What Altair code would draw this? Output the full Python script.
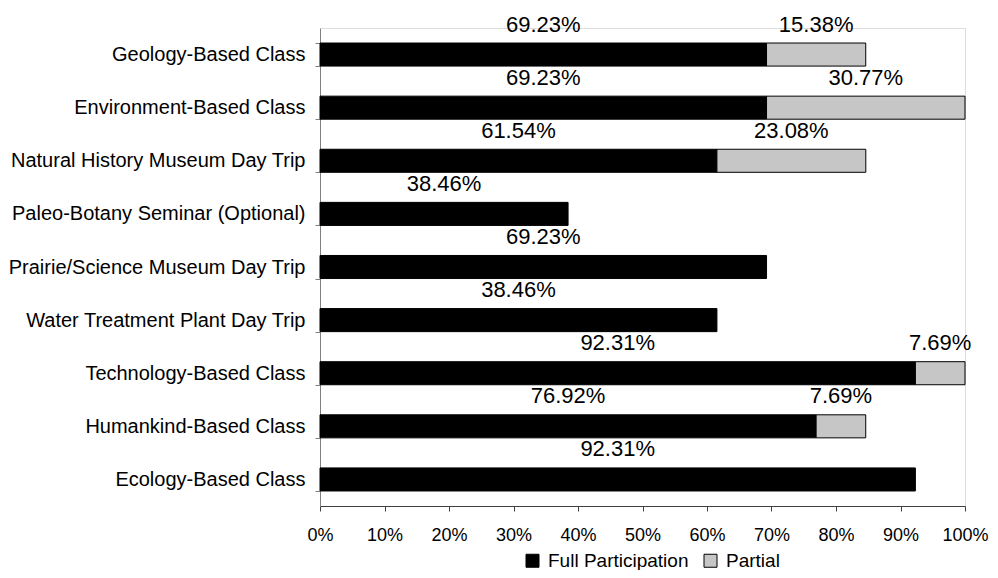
import altair as alt
import pandas as pd

categories = [
    "Geology-Based Class",
    "Environment-Based Class",
    "Natural History Museum Day Trip",
    "Paleo-Botany Seminar (Optional)",
    "Prairie/Science Museum Day Trip",
    "Water Treatment Plant Day Trip",
    "Technology-Based Class",
    "Humankind-Based Class",
    "Ecology-Based Class",
]
full_values = [69.23, 69.23, 61.54, 38.46, 69.23, 61.54, 92.31, 76.92, 92.31]
partial_values = [15.38, 30.77, 23.08, 0, 0, 0, 7.69, 7.69, 0]
full_labels = ["69.23%", "69.23%", "61.54%", "38.46%", "69.23%", "38.46%", "92.31%", "76.92%", "92.31%"]
partial_labels = ["15.38%", "30.77%", "23.08%", "", "", "", "7.69%", "7.69%", ""]
series = ["Full Participation", "Partial"]

rows = []
for c, fv, pv, fl, pl in zip(categories, full_values, partial_values, full_labels, partial_labels):
    rows.append({"category": c, "series": series[0], "value": fv / 100, "label": fl, "ord": 0})
    rows.append({"category": c, "series": series[1], "value": pv / 100, "label": pl, "ord": 1})
df = pd.DataFrame(rows)

FONT = "Liberation Sans"

base = alt.Chart(df).transform_filter("datum.value > 0").transform_stack(
    stack="value", groupby=["category"], sort=[alt.SortField("ord")], as_=["x0", "x1"]
).transform_calculate(mid="(datum.x0 + datum.x1) / 2")

yenc = alt.Y(
    "category:N",
    sort=categories,
    title=None,
    scale=alt.Scale(paddingInner=0.566, paddingOuter=0.283),
    axis=alt.Axis(
        labelFont=FONT, labelFontSize=20, labelColor="#000000", labelPadding=10,
        tickBand="extent", tickSize=5, tickColor="#808080", domainColor="#808080",
        labelLimit=400,
    ),
)

bars = base.mark_bar(stroke="#000000", strokeWidth=1).encode(
    x=alt.X(
        "x0:Q",
        title=None,
        scale=alt.Scale(domain=[0, 1], nice=False),
        axis=alt.Axis(
            format=".0%", values=[i / 10 for i in range(11)], grid=False,
            labelFont=FONT, labelFontSize=18, labelColor="#000000", labelPadding=15,
            tickSize=5, tickColor="#404040", domainColor="#404040", labelFlush=False,
        ),
    ),
    x2="x1:Q",
    y=yenc,
    color=alt.Color(
        "series:N",
        scale=alt.Scale(domain=series, range=["#000000", "#c6c6c6"]),
        legend=alt.Legend(
            title=None, orient="none", direction="horizontal", legendX=203, legendY=523,
            symbolType="square", symbolSize=169, symbolStrokeColor="#000000",
            symbolStrokeWidth=1, labelFont=FONT, labelFontSize=19, labelColor="#000000",
            columnPadding=12, labelOffset=6, padding=0,
        ),
    ),
    order=alt.Order("ord:Q"),
)

texts = base.mark_text(font=FONT, fontSize=22, color="#000000", baseline="middle", dy=-30).encode(
    x="mid:Q",
    y=alt.Y("category:N", sort=categories),
    text="label:N",
)

chart = alt.layer(bars, texts).properties(
    width=645, height=478,
    autosize=alt.AutoSizeParams(type="none"),
    padding={"left": 312, "top": 20, "right": 25, "bottom": 64},
).configure_view(stroke=None).configure(background="#ffffff")

chart.save("out.html", embed_options={"renderer": "svg", "actions": False})
